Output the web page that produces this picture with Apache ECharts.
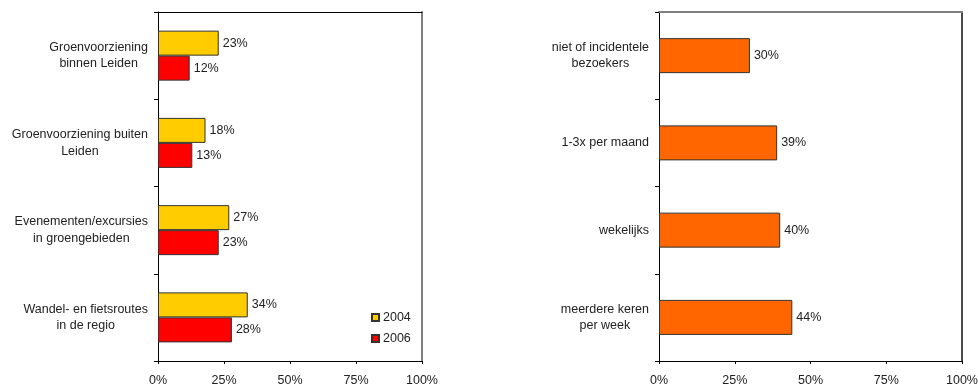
<!DOCTYPE html>
<html>
<head>
<meta charset="utf-8">
<script src="https://cdn.jsdelivr.net/npm/echarts@6/dist/echarts.min.js"></script>
<style>
  html, body { margin: 0; padding: 0; background: #fff; }
  #chart { width: 978px; height: 385px; }
</style>
</head>
<body>
<div id="chart"></div>
<script>
// Left panel: use of green facilities, 2004 vs 2006
const leftCategories = [
  'Groenvoorziening\nbinnen Leiden',
  'Groenvoorziening buiten\nLeiden',
  'Evenementen/excursies\nin groengebieden',
  'Wandel- en fietsroutes\nin de regio'
];
const values2004 = [23, 18, 27, 34];
const values2006 = [12, 13, 23, 28];

// Right panel: visit frequency
const rightCategories = [
  'niet of incidentele\nbezoekers',
  '1-3x per maand',
  'wekelijks',
  'meerdere keren\nper week'
];
const visitValues = [30, 39, 40, 44];

const percentTicks = [0, 25, 50, 75, 100];

const FONT = 'Liberation Sans, Arial, sans-serif';
const FS = 12.5;
const TXT = '#222';

function centeredLines(v) {
  return v.split('\n').map(l => '{c|' + l + '}').join('\n');
}

function catAxis(gridIndex, data) {
  return {
    type: 'category', gridIndex, data, inverse: true,
    axisLine: { show: true, lineStyle: { color: '#000', width: 1 } },
    axisTick: { show: true, length: 4, lineStyle: { color: '#000' } },
    axisLabel: {
      margin: 10, align: 'right', color: TXT, fontFamily: FONT, fontSize: FS,
      formatter: centeredLines,
      rich: { c: { align: 'center', color: TXT, fontFamily: FONT, fontSize: FS, lineHeight: 16.5 } }
    },
    splitLine: { show: false }
  };
}

function valAxis(gridIndex) {
  return {
    type: 'value', gridIndex, min: 0, max: 100, interval: 25,
    axisLine: { show: true, onZero: false, lineStyle: { color: '#000', width: 1 } },
    axisTick: { show: true, length: 3, lineStyle: { color: '#000' } },
    axisLabel: {
      margin: 13, color: TXT, fontFamily: FONT, fontSize: FS,
      formatter: v => percentTicks.includes(v) ? v + '%' : ''
    },
    splitLine: { show: false }
  };
}

// frame lines along the top and right edges of each plot
function frameTop(gridIndex, color, width) {
  return {
    type: 'value', gridIndex, position: 'top', min: 0, max: 100,
    axisLine: { show: true, onZero: false, lineStyle: { color, width } },
    axisTick: { show: false }, axisLabel: { show: false }, splitLine: { show: false }
  };
}
function frameRight(gridIndex, color, width) {
  return {
    type: 'value', gridIndex, position: 'right', min: 0, max: 1,
    axisLine: { show: true, onZero: false, lineStyle: { color, width } },
    axisTick: { show: false }, axisLabel: { show: false }, splitLine: { show: false }
  };
}

const valueLabel = {
  show: true, position: 'right', distance: 4,
  color: TXT, fontFamily: FONT, fontSize: FS,
  formatter: p => p.value + '%'
};

const chart = echarts.init(document.getElementById('chart'), null, { renderer: 'canvas' });
chart.setOption({
  animation: false,
  backgroundColor: '#fff',
  textStyle: { fontFamily: FONT },
  grid: [
    { left: 158, top: 12, width: 264, height: 349, outerBoundsMode: 'none', containLabel: false },
    { left: 659, top: 12, width: 303, height: 349, outerBoundsMode: 'none', containLabel: false }
  ],
  xAxis: [valAxis(0), valAxis(1), frameTop(0, '#000', 1), frameTop(1, '#808080', 2)],
  yAxis: [catAxis(0, leftCategories), catAxis(1, rightCategories),
          frameRight(0, '#808080', 2), frameRight(1, '#111', 1.5)],
  legend: {
    orient: 'vertical', left: 366, top: 306,
    itemWidth: 7, itemHeight: 7, itemGap: 8,
    icon: 'rect',
    textStyle: { color: TXT, fontFamily: FONT, fontSize: FS, padding: [0, 0, 0, -1] },
    data: ['2004', '2006']
  },
  series: [
    {
      name: '2004', type: 'bar', xAxisIndex: 0, yAxisIndex: 0,
      data: values2004, barWidth: 25, barGap: '0%',
      itemStyle: { color: '#FFCC00', borderColor: '#333', borderWidth: 1 },
      label: valueLabel
    },
    {
      name: '2006', type: 'bar', xAxisIndex: 0, yAxisIndex: 0,
      data: values2006, barWidth: 25, barGap: '0%',
      itemStyle: { color: '#FF0000', borderColor: '#333', borderWidth: 1 },
      label: valueLabel
    },
    {
      name: 'bezoekfrequentie', type: 'bar', xAxisIndex: 1, yAxisIndex: 1,
      data: visitValues, barWidth: 35,
      itemStyle: { color: '#FF6600', borderColor: '#333', borderWidth: 1 },
      label: valueLabel
    }
  ]
});
</script>
</body>
</html>
